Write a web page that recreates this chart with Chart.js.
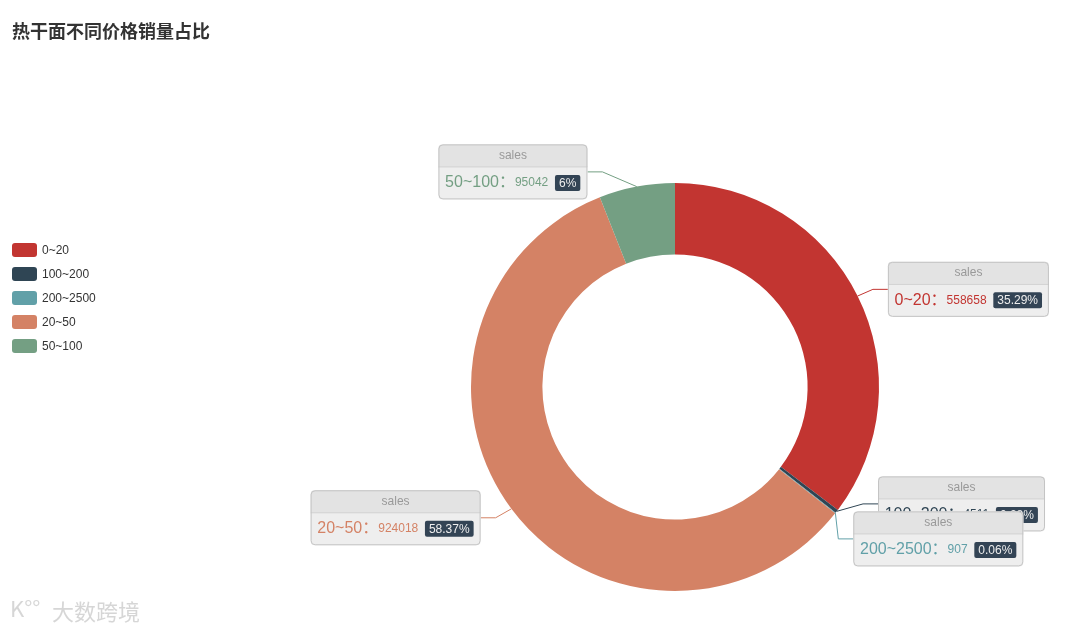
<!DOCTYPE html>
<html>
<head>
<meta charset="utf-8">
<title>热干面不同价格销量占比</title>
<script src="https://cdn.jsdelivr.net/npm/chart.js@4.4.1/dist/chart.umd.min.js"></script>
<style>
  html, body { margin: 0; padding: 0; background: #fff; }
  #wrap { width: 1080px; height: 633px; }
</style>
</head>
<body>
<div id="wrap"><canvas id="chart" width="1080" height="633"></canvas></div>
<script>
const titleText = '热干面不同价格销量占比';
const seriesName = 'sales';
const categories = ['0~20', '100~200', '200~2500', '20~50', '50~100'];
const sales = [558658, 4511, 907, 924018, 95042];
const colors = ['#c23531', '#2f4554', '#61a0a8', '#d48265', '#749f83'];

const FONT = "'Helvetica Neue', Helvetica, 'Liberation Sans', Arial, 'Noto Sans CJK SC', sans-serif";
const total = sales.reduce((s, v) => s + v, 0);
const percents = sales.map(v => +(v / total * 100).toFixed(2));

function roundRectPath(ctx, x, y, w, h, r) {
    const [tl, tr, br, bl] = Array.isArray(r) ? r : [r, r, r, r];
    ctx.beginPath();
    ctx.moveTo(x + tl, y);
    ctx.lineTo(x + w - tr, y);
    ctx.arcTo(x + w, y, x + w, y + tr, tr);
    ctx.lineTo(x + w, y + h - br);
    ctx.arcTo(x + w, y + h, x + w - br, y + h, br);
    ctx.lineTo(x + bl, y + h);
    ctx.arcTo(x, y + h, x, y + h - bl, bl);
    ctx.lineTo(x, y + tl);
    ctx.arcTo(x, y, x + tl, y, tl);
    ctx.closePath();
}

function drawLabelBox(ctx, i, endX, endY, side) {
    const name = categories[i] + '：';
    const value = String(sales[i]);
    const per = percents[i] + '%';

    ctx.font = `16px ${FONT}`;
    const wName = ctx.measureText(name).width;
    ctx.font = `12px ${FONT}`;
    const wSp = ctx.measureText('  ').width;
    const wVal = ctx.measureText(value).width;
    const wPer = ctx.measureText(per).width + 8;

    const w = Math.round(wSp + wName + wVal + wSp + wPer + wSp);
    const h = 55;
    const x = side > 0 ? endX : endX - w;
    const y = endY - h / 2;

    // box
    roundRectPath(ctx, x, y, w, h, 4);
    ctx.fillStyle = '#eeeeee';
    ctx.fill();
    roundRectPath(ctx, x, y, w, 22, [4, 4, 0, 0]);
    ctx.fillStyle = '#e3e3e3';
    ctx.fill();
    ctx.strokeStyle = '#cfcfcf';
    ctx.lineWidth = 1;
    ctx.beginPath();
    ctx.moveTo(x, y + 22.5);
    ctx.lineTo(x + w, y + 22.5);
    ctx.stroke();
    roundRectPath(ctx, x + 0.5, y + 0.5, w - 1, h - 1, 4);
    ctx.strokeStyle = '#c4c4c4';
    ctx.stroke();

    // header
    ctx.textBaseline = 'middle';
    ctx.textAlign = 'center';
    ctx.font = `12px ${FONT}`;
    ctx.fillStyle = '#999';
    ctx.fillText(seriesName, x + w / 2, y + 11);

    // body
    const by = y + 22 + 16.5;
    let cx = x + wSp;
    ctx.textAlign = 'left';
    ctx.fillStyle = colors[i];
    ctx.font = `16px ${FONT}`;
    ctx.fillText(name, cx, by);
    cx += wName;
    ctx.font = `12px ${FONT}`;
    ctx.fillText(value, cx, by);
    cx += wVal + wSp;
    roundRectPath(ctx, cx, by - 8, wPer, 16, 2);
    ctx.fillStyle = '#334455';
    ctx.fill();
    ctx.fillStyle = '#eee';
    ctx.fillText(per, cx + 4, by + 0.5);
}

const pieLabels = {
    id: 'pieLabels',
    afterDatasetsDraw(chart) {
        const ctx = chart.ctx;
        const meta = chart.getDatasetMeta(0);
        const len1 = 15, len2 = 15, gap = 35;
        let cx0 = 0, cy0 = 0, rA = 0;

        const items = meta.data.map((arc, i) => {
            const p = arc.getProps(['x', 'y', 'startAngle', 'endAngle', 'outerRadius'], true);
            const mid = (p.startAngle + p.endAngle) / 2;
            const dx = Math.cos(mid), dy = Math.sin(mid);
            cx0 = p.x; cy0 = p.y; rA = p.outerRadius + len1;
            return {
                i,
                sx: p.x + dx * p.outerRadius,
                sy: p.y + dy * p.outerRadius,
                ey: p.y + dy * rA,
                side: dx >= 0 ? 1 : -1
            };
        });

        // push overlapping labels apart on each side
        [1, -1].forEach(side => {
            const list = items.filter(it => it.side === side).sort((a, b) => a.ey - b.ey);
            for (let k = 1; k < list.length; k++) {
                const d = list[k].ey - list[k - 1].ey;
                if (d < gap) {
                    const s = (gap - d) / 2;
                    list[k - 1].ey -= s;
                    list[k].ey += s;
                }
            }
        });

        // elbow x on an ellipse round the pie
        const rB = rA + 9;
        items.forEach(it => {
            const t = Math.max(0, 1 - Math.pow(it.ey - cy0, 2) / (rB * rB));
            it.ex = cx0 + it.side * rA * Math.sqrt(t);
        });

        ctx.save();
        items.forEach(it => {
            const endX = it.ex + it.side * len2;
            ctx.strokeStyle = colors[it.i];
            ctx.lineWidth = 1;
            ctx.beginPath();
            ctx.moveTo(it.sx, it.sy);
            ctx.lineTo(it.ex, it.ey);
            ctx.lineTo(endX, it.ey);
            ctx.stroke();
            drawLabelBox(ctx, it.i, endX, it.ey, it.side);
        });
        ctx.restore();
    },
    afterDraw(chart) {
        const ctx = chart.ctx;
        ctx.save();

        // title
        ctx.textBaseline = 'middle';
        ctx.textAlign = 'left';
        ctx.fillStyle = '#333';
        ctx.font = `bold 18px 'Noto Sans CJK SC', ${FONT}`;
        ctx.fillText(titleText, 12, 31);

        // legend
        categories.forEach((c, i) => {
            const cy = 250 + i * 24;
            roundRectPath(ctx, 12, cy - 7, 25, 14, 3);
            ctx.fillStyle = colors[i];
            ctx.fill();
            ctx.fillStyle = '#333';
            ctx.font = `12px ${FONT}`;
            ctx.fillText(c, 42, cy + 0.5);
        });

        // watermark
        ctx.font = `22px 'Noto Sans CJK SC', sans-serif`;
        ctx.lineWidth = 3;
        ctx.strokeStyle = 'rgba(255,255,255,0.9)';
        ctx.fillStyle = 'rgba(200,200,200,0.75)';
        ctx.strokeText('K°°', 10, 609);
        ctx.fillText('K°°', 10, 609);
        ctx.strokeText('大数跨境', 52, 612);
        ctx.fillText('大数跨境', 52, 612);

        ctx.restore();
    }
};

new Chart(document.getElementById('chart'), {
    type: 'doughnut',
    data: {
        labels: categories,
        datasets: [{
            label: seriesName,
            data: sales,
            backgroundColor: colors,
            borderWidth: 0,
            hoverOffset: 0
        }]
    },
    options: {
        responsive: false,
        animation: false,
        cutout: '65%',
        layout: { padding: { left: 471, right: 201, top: 183, bottom: 42 } },
        plugins: {
            legend: { display: false },
            title: { display: false },
            tooltip: { enabled: false }
        }
    },
    plugins: [pieLabels]
});
</script>
</body>
</html>
